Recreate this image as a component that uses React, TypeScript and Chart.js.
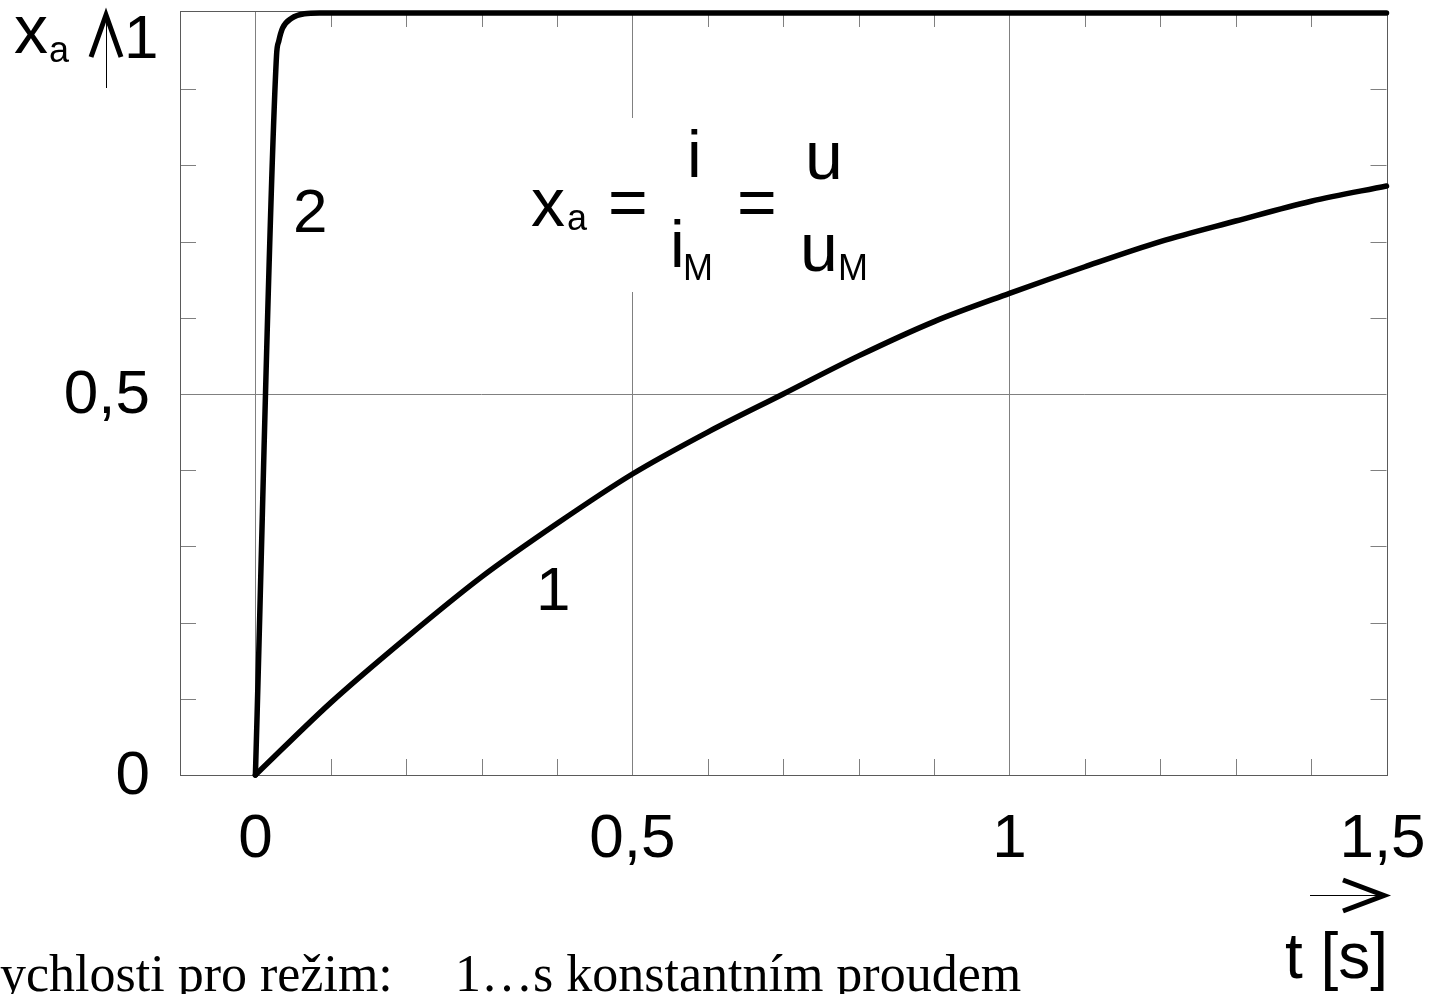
import React, { useEffect, useRef } from "react";
import { Chart, registerables } from "chart.js";

Chart.register(...registerables);

const W = 1437;
const H = 994;

// Curve 1 – start with constant current (time in s, relative speed x_a)
const tCurve1 = [0, 0.1, 0.2, 0.3, 0.4, 0.5, 0.6, 0.7, 0.8, 0.9, 1.0, 1.1, 1.2, 1.3, 1.4, 1.5];
const xaCurve1 = [0, 0.095, 0.18, 0.26, 0.33, 0.395, 0.45, 0.5, 0.55, 0.595, 0.632, 0.667, 0.7, 0.727, 0.753, 0.773];

// Curve 2 – fast start
const tCurve2 = [0, 0.028, 0.031, 0.036, 0.048, 0.065, 0.085, 1.5];
const xaCurve2 = [0, 0.944, 0.963, 0.98, 0.993, 0.999, 1, 1];

// Axis ranges
const xMin = -0.1;
const xMax = 1.5;
const yMin = 0;
const yMax = 1.0026;

// Grid lines and small tick marks
const xGridValues = [0, 0.5, 1];
const yGridValues = [0.5];
const xMinorTicks = [0.1, 0.2, 0.3, 0.4, 0.6, 0.7, 0.8, 0.9, 1.1, 1.2, 1.3, 1.4];
const yMinorTicks = [0.1, 0.2, 0.3, 0.4, 0.6, 0.7, 0.8, 0.9];

// Tick labels
const xTickValues = [0, 0.5, 1, 1.5];
const xTickTexts = ["0", "0,5", "1", "1,5"];
const yTickValues = [0, 0.5];
const yTickTexts = ["0", "0,5"];
const yTopText = "1";

// Curve numbers
const curveLabels = ["1", "2"];

const SANS = '"Liberation Sans", Arial, Helvetica, sans-serif';
const SERIF = '"Liberation Serif", "Times New Roman", serif';

const GRID = "#808080";
const BORDER = "#5a5a5a";

const decorPlugin = {
  id: "decor",
  beforeDatasetsDraw(chart: any) {
    const ctx = chart.ctx as CanvasRenderingContext2D;
    const { left, right, top, bottom } = chart.chartArea;
    const xs = chart.scales.x;
    const ys = chart.scales.y;
    ctx.save();
    ctx.lineWidth = 1;
    ctx.strokeStyle = GRID;
    // main grid
    for (const v of xGridValues) {
      const px = Math.round(xs.getPixelForValue(v)) + 0.5;
      ctx.beginPath();
      ctx.moveTo(px, top);
      ctx.lineTo(px, bottom);
      ctx.stroke();
    }
    for (const v of yGridValues) {
      const py = Math.round(ys.getPixelForValue(v)) + 0.5;
      ctx.beginPath();
      ctx.moveTo(left, py);
      ctx.lineTo(right, py);
      ctx.stroke();
    }
    // inner tick marks
    const tl = 16;
    for (const v of xMinorTicks) {
      const px = Math.round(xs.getPixelForValue(v)) + 0.5;
      ctx.beginPath();
      ctx.moveTo(px, bottom);
      ctx.lineTo(px, bottom - tl);
      ctx.moveTo(px, top);
      ctx.lineTo(px, top + tl);
      ctx.stroke();
    }
    for (const v of yMinorTicks) {
      const py = Math.round(ys.getPixelForValue(v)) + 0.5;
      ctx.beginPath();
      ctx.moveTo(left, py);
      ctx.lineTo(left + tl, py);
      ctx.moveTo(right, py);
      ctx.lineTo(right - tl, py);
      ctx.stroke();
    }
    // frame
    ctx.strokeStyle = BORDER;
    ctx.strokeRect(Math.round(left) + 0.5, Math.round(top) + 0.5, Math.round(right - left), Math.round(bottom - top));
    // white field behind the formula
    ctx.fillStyle = "#ffffff";
    ctx.fillRect(522, 118, 360, 174);
    ctx.restore();
  },
  afterDatasetsDraw(chart: any) {
    const ctx = chart.ctx as CanvasRenderingContext2D;
    const { bottom } = chart.chartArea;
    const xs = chart.scales.x;
    const ys = chart.scales.y;
    ctx.save();
    ctx.fillStyle = "#000";
    ctx.textBaseline = "alphabetic";

    // y tick labels
    ctx.font = `62px ${SANS}`;
    ctx.textAlign = "right";
    yTickValues.forEach((v, i) => {
      ctx.fillText(yTickTexts[i], 150, ys.getPixelForValue(v) + 19);
    });
    ctx.textAlign = "left";
    ctx.fillText(yTopText, 124, 58);

    // x tick labels
    ctx.textAlign = "center";
    xTickValues.forEach((v, i) => {
      ctx.fillText(xTickTexts[i], xs.getPixelForValue(v) - (i === 3 ? 4 : 0), bottom + 82);
    });

    // y axis name with arrow
    ctx.textAlign = "left";
    ctx.font = `68px ${SANS}`;
    ctx.fillText("x", 14, 53);
    ctx.font = `36px ${SANS}`;
    ctx.fillText("a", 49, 62);
    ctx.strokeStyle = "#000";
    ctx.lineWidth = 1;
    ctx.beginPath();
    ctx.moveTo(106.5, 16);
    ctx.lineTo(106.5, 88);
    ctx.stroke();
    ctx.lineWidth = 5;
    ctx.lineJoin = "miter";
    ctx.beginPath();
    ctx.moveTo(91, 57);
    ctx.lineTo(106, 15);
    ctx.lineTo(121, 57);
    ctx.stroke();

    // x axis name with arrow
    ctx.lineWidth = 1;
    ctx.beginPath();
    ctx.moveTo(1310, 895.5);
    ctx.lineTo(1382, 895.5);
    ctx.stroke();
    ctx.lineWidth = 5;
    ctx.beginPath();
    ctx.moveTo(1343, 880);
    ctx.lineTo(1384, 895.5);
    ctx.lineTo(1343, 911);
    ctx.stroke();
    ctx.font = `64px ${SANS}`;
    ctx.fillText("t [s]", 1285, 978);

    // curve numbers
    ctx.font = `62px ${SANS}`;
    ctx.fillText(curveLabels[1], 293, 232);
    ctx.fillText(curveLabels[0], 536, 610);

    // formula x_a = i / i_M = u / u_M
    ctx.font = `68px ${SANS}`;
    ctx.fillText("x", 531, 226);
    ctx.fillText("=", 608, 226);
    ctx.fillText("=", 737, 226);
    ctx.font = `66px ${SANS}`;
    ctx.fillText("i", 687, 177);
    ctx.fillText("i", 670, 267);
    ctx.font = `68px ${SANS}`;
    ctx.fillText("u", 805, 179);
    ctx.fillText("u", 800, 271);
    ctx.font = `36px ${SANS}`;
    ctx.fillText("a", 567, 230);
    ctx.fillText("M", 683, 280);
    ctx.fillText("M", 838, 280);

    // caption line
    ctx.font = `52px ${SERIF}`;
    ctx.fillText("ychlosti pro režim:", 0, 991);
    ctx.fillText("1…s konstantním proudem", 455, 991);
    ctx.restore();
  },
};

export default function App() {
  const ref = useRef<HTMLCanvasElement | null>(null);

  useEffect(() => {
    document.body.style.margin = "0";
    const canvas = ref.current;
    if (!canvas) return;
    const chart = new Chart(canvas, {
      type: "scatter",
      data: {
        datasets: [
          {
            label: "1",
            data: tCurve1.map((t, i) => ({ x: t, y: xaCurve1[i] })),
            showLine: true,
            borderColor: "#000",
            borderWidth: 5.5,
            pointRadius: 0,
            cubicInterpolationMode: "monotone",
            borderCapStyle: "round",
            borderJoinStyle: "round",
            clip: 8,
          },
          {
            label: "2",
            data: tCurve2.map((t, i) => ({ x: t, y: xaCurve2[i] })),
            showLine: true,
            borderColor: "#000",
            borderWidth: 5.5,
            pointRadius: 0,
            cubicInterpolationMode: "monotone",
            borderCapStyle: "round",
            borderJoinStyle: "round",
            clip: 8,
          },
        ],
      },
      options: {
        responsive: false,
        animation: false,
        devicePixelRatio: 1,
        layout: { padding: { left: 180, right: 50.5, top: 11, bottom: 219 } },
        plugins: {
          legend: { display: false },
          tooltip: { enabled: false },
        },
        scales: {
          x: { type: "linear", min: xMin, max: xMax, display: false },
          y: { type: "linear", min: yMin, max: yMax, display: false },
        },
      },
      plugins: [decorPlugin],
    });
    return () => chart.destroy();
  }, []);

  return (
    <div style={{ width: W, height: H, background: "#fff" }}>
      <canvas ref={ref} width={W} height={H} style={{ display: "block", width: W, height: H }} />
    </div>
  );
}
